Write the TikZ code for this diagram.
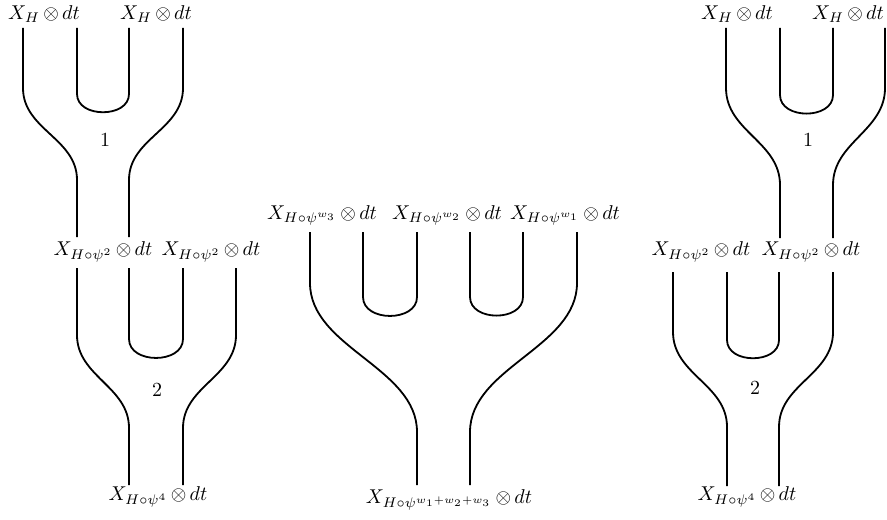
\documentclass[tikz,border=0pt]{standalone}
\usepackage{amsmath,amssymb}
\usepackage{tikz}
\tikzset{strand/.style={line width=0.9pt},
         cupbend/.style={out=-90,in=-90,looseness=1.2},
         sbend/.style={out=-90,in=90,looseness=#1}, sbend/.default=1}
\newcommand{\Xd}[1]{X_{#1}\,{\otimes}\,dt}

\begin{document}
\begin{tikzpicture}[x=0.5pt,y=-0.5pt]
 \useasboundingbox (0,0) rectangle (887,519);
 % left column: 1 then 2
         \node (LT1) at (44,14) {$\Xd{H}$};
         \node (LT2) at (156,14) {$\Xd{H}$};
         \node (LM1) at (103,252) {$\Xd{H\circ\psi^2}$};
         \node (LM2) at (211,252) {$\Xd{H\circ\psi^2}$};
         \node (LB) at (158,497) {$\Xd{H\circ\psi^4}$};
         \node (LN1) at (105,140) {$1$};
         \node (LN2) at (157,390) {$2$};
         \coordinate (la1) at (23,28);  \coordinate (la2) at (77,28);
         \coordinate (la3) at (129,28); \coordinate (la4) at (183,28);
         \coordinate (lb1) at (77,237); \coordinate (lb2) at (129,237);
         \coordinate (lc1) at (77,268); \coordinate (lc2) at (129,268);
         \coordinate (lc3) at (183,268); \coordinate (lc4) at (236,268);
         \coordinate (ld1) at (129,485); \coordinate (ld2) at (183,485);
         \draw [strand] (la1) -- (23,88) to[sbend] (77,180) -- (lb1);
         \draw [strand] (la4) -- (183,88) to[sbend] (129,180) -- (lb2);
         \draw [strand] (la2) -- (77,94) to[cupbend] (129,94) -- (la3);
         \draw [strand] (lc1) -- (77,335) to[sbend] (129,428) -- (ld1);
         \draw [strand] (lc4) -- (236,335) to[sbend] (183,428) -- (ld2);
         \draw [strand] (lc2) -- (129,339) to[cupbend] (183,339) -- (lc3);
 % middle column
         \node (MT1) at (322,215) {$\Xd{H\circ\psi^{w_3}}$};
         \node (MT2) at (447,215) {$\Xd{H\circ\psi^{w_2}}$};
         \node (MT3) at (565,215) {$\Xd{H\circ\psi^{w_1}}$};
         \node (MB) at (449,500) {$\Xd{H\circ\psi^{w_1+w_2+w_3}}$};
         \coordinate (ma1) at (310,232); \coordinate (ma2) at (363,232);
         \coordinate (ma3) at (417,232); \coordinate (ma4) at (470,232);
         \coordinate (ma5) at (523,232); \coordinate (ma6) at (577,232);
         \coordinate (mb1) at (417,485); \coordinate (mb2) at (470,485);
         \draw [strand] (ma1) -- (310,283) to[sbend=0.9] (417,432) -- (mb1);
         \draw [strand] (ma6) -- (577,283) to[sbend=0.9] (470,432) -- (mb2);
         \draw [strand] (ma2) -- (363,297) to[cupbend] (417,297) -- (ma3);
         \draw [strand] (ma4) -- (470,297) to[cupbend] (523,297) -- (ma5);
 % right column: 1 then 2
         \node (RT1) at (737,14) {$\Xd{H}$};
         \node (RT2) at (848,14) {$\Xd{H}$};
         \node (RM1) at (701,252) {$\Xd{H\circ\psi^2}$};
         \node (RM2) at (811,252) {$\Xd{H\circ\psi^2}$};
         \node (RB) at (747,497) {$\Xd{H\circ\psi^4}$};
         \node (RN1) at (808,140) {$1$};
         \node (RN2) at (755,388) {$2$};
         \coordinate (ra1) at (726,28); \coordinate (ra2) at (780,28);
         \coordinate (ra3) at (833,28); \coordinate (ra4) at (885,28);
         \coordinate (rb1) at (780,238); \coordinate (rb2) at (833,238);
         \coordinate (rc1) at (673,272); \coordinate (rc2) at (727,272);
         \coordinate (rc3) at (779,272); \coordinate (rc4) at (833,272);
         \coordinate (rd1) at (727,486); \coordinate (rd2) at (779,486);
         \draw [strand] (ra1) -- (726,88) to[sbend] (780,185) -- (rb1);
         \draw [strand] (ra4) -- (885,88) to[sbend] (833,185) -- (rb2);
         \draw [strand] (ra2) -- (780,95) to[cupbend] (833,95) -- (ra3);
         \draw [strand] (rc1) -- (673,332) to[sbend] (727,427) -- (rd1);
         \draw [strand] (rc4) -- (833,332) to[sbend] (779,427) -- (rd2);
         \draw [strand] (rc2) -- (727,340) to[cupbend] (779,340) -- (rc3);
\end{tikzpicture}
\end{document}
